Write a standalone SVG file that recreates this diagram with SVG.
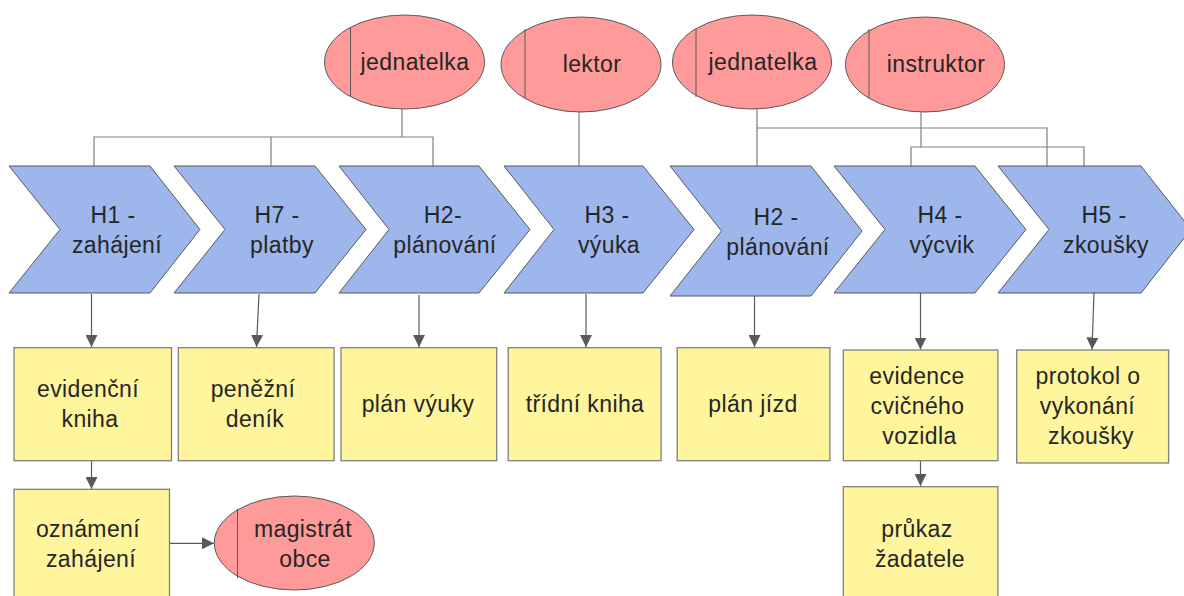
<svg xmlns="http://www.w3.org/2000/svg" width="1184" height="596" viewBox="0 0 1184 596">
  <style>
    .proc { fill: #9db6ec; stroke: #595959; stroke-width: 1; }
    .role { fill: #ff9a9a; stroke: #595959; stroke-width: 1; }
    .role-bar { stroke: #595959; stroke-width: 1; fill: none; }
    .doc { fill: #fff59d; stroke: #7f7f7f; stroke-width: 1.3; }
    .link { stroke: #7f7f7f; stroke-width: 1.2; fill: none; }
    .flow { stroke: #595959; stroke-width: 1.2; fill: none; marker-end: url(#arrow); }
    text { font-family: "Liberation Sans", Arial, sans-serif; font-size: 23px; fill: #262626; text-anchor: middle; letter-spacing: 0.4px; }
  </style>
  <defs>
    <marker id="arrow" viewBox="0 0 12 12" refX="12" refY="6" markerWidth="12" markerHeight="12" markerUnits="userSpaceOnUse" orient="auto">
      <path d="M0,0 L12,6 L0,12 Z" fill="#595959"/>
    </marker>
  </defs>

  <!-- role to process links -->
  <g id="connectors">
    <polyline class="link" points="402,109 402,137"/>
    <polyline class="link" points="94,166 94,137 433,137 433,166"/>
    <polyline class="link" points="271,137 271,166"/>
    <polyline class="link" points="579,112 579,166"/>
    <polyline class="link" points="757,109 757,166"/>
    <polyline class="link" points="757,128 1047,128 1047,166"/>
    <polyline class="link" points="921,112 921,147"/>
    <polyline class="link" points="911,166 911,147 1084,147 1084,166"/>

    <!-- process to document flows -->
    <line class="flow" x1="91.5" y1="294" x2="91.5" y2="347"/>
    <line class="flow" x1="259" y1="294" x2="256.5" y2="347"/>
    <line class="flow" x1="419" y1="295" x2="419" y2="347"/>
    <line class="flow" x1="586" y1="294" x2="586" y2="347"/>
    <line class="flow" x1="754.5" y1="296" x2="754.5" y2="347"/>
    <line class="flow" x1="920.5" y1="293" x2="920.5" y2="349.5"/>
    <line class="flow" x1="1094" y1="293" x2="1092" y2="349.5"/>
    <line class="flow" x1="91.5" y1="461" x2="91.5" y2="489"/>
    <line class="flow" x1="920.5" y1="461" x2="920.5" y2="486"/>
    <line class="flow" x1="170" y1="543.3" x2="214" y2="543.3"/>
  </g>

  <!-- roles -->
  <g id="role-jednatelka-1">
    <ellipse class="role" cx="404.5" cy="62" rx="80" ry="47"/>
    <line class="role-bar" x1="350.5" y1="28" x2="350.5" y2="97"/>
    <text x="415" y="70">jednatelka</text>
  </g>
  <g id="role-lektor">
    <ellipse class="role" cx="581" cy="64.5" rx="80" ry="47.5"/>
    <line class="role-bar" x1="525" y1="29" x2="525" y2="98"/>
    <text x="592" y="72">lektor</text>
  </g>
  <g id="role-jednatelka-2">
    <ellipse class="role" cx="752" cy="62" rx="79.5" ry="47"/>
    <line class="role-bar" x1="696" y1="29" x2="696" y2="97"/>
    <text x="763" y="70">jednatelka</text>
  </g>
  <g id="role-instruktor">
    <ellipse class="role" cx="925" cy="64.5" rx="79.5" ry="47.5"/>
    <line class="role-bar" x1="869" y1="29" x2="869" y2="98"/>
    <text x="936" y="72">instruktor</text>
  </g>
  <g id="role-magistrat">
    <ellipse class="role" cx="294.3" cy="543" rx="80" ry="47"/>
    <line class="role-bar" x1="237.5" y1="509" x2="237.5" y2="578"/>
    <text x="303" y="537">magistrát</text>
    <text x="305" y="567">obce</text>
  </g>

  <!-- process chevrons -->
  <g id="proc-h1">
    <polygon class="proc" points="9,166 150,166 200,229.5 150,293 9,293 60,229.5"/>
    <text x="113" y="223">H1 -</text>
    <text x="117" y="253">zahájení</text>
  </g>
  <g id="proc-h7">
    <polygon class="proc" points="174,166 315,166 366,229.5 315,293 174,293 225,229.5"/>
    <text x="277" y="223">H7 -</text>
    <text x="282" y="253">platby</text>
  </g>
  <g id="proc-h2a">
    <polygon class="proc" points="339,166 479,166 530,229.5 479,293 339,293 389,229.5"/>
    <text x="443" y="223">H2-</text>
    <text x="445" y="253">plánování</text>
  </g>
  <g id="proc-h3">
    <polygon class="proc" points="504,166 643,166 694,229.5 643,293 504,293 554,229.5"/>
    <text x="607" y="223">H3 -</text>
    <text x="609" y="253">výuka</text>
  </g>
  <g id="proc-h2b">
    <polygon class="proc" points="670,166 811,166 862,231 811,296 670,296 721.5,231"/>
    <text x="776" y="225">H2 -</text>
    <text x="778" y="255">plánování</text>
  </g>
  <g id="proc-h4">
    <polygon class="proc" points="834,166 975,166 1026,229.5 975,293 834,293 885,229.5"/>
    <text x="940" y="223">H4 -</text>
    <text x="942" y="253">výcvik</text>
  </g>
  <g id="proc-h5">
    <polygon class="proc" points="998,166 1141,166 1191,229.5 1141,293 998,293 1049,229.5"/>
    <text x="1104" y="223">H5 -</text>
    <text x="1106" y="253">zkoušky</text>
  </g>

  <!-- documents -->
  <g id="doc-evidencni-kniha">
    <rect class="doc" x="14" y="347.7" width="157.5" height="113"/>
    <text x="88" y="397">evidenční</text>
    <text x="90" y="427">kniha</text>
  </g>
  <g id="doc-penezni-denik">
    <rect class="doc" x="178.3" y="347.7" width="155.8" height="113"/>
    <text x="253" y="397">peněžní</text>
    <text x="255" y="427">deník</text>
  </g>
  <g id="doc-plan-vyuky">
    <rect class="doc" x="341" y="347.7" width="155.7" height="113"/>
    <text x="418" y="412">plán výuky</text>
  </g>
  <g id="doc-tridni-kniha">
    <rect class="doc" x="508.2" y="347.7" width="152.9" height="113"/>
    <text x="585" y="412">třídní kniha</text>
  </g>
  <g id="doc-plan-jizd">
    <rect class="doc" x="677.2" y="347.7" width="152.7" height="113"/>
    <text x="753" y="412">plán jízd</text>
  </g>
  <g id="doc-evidence-vozidla">
    <rect class="doc" x="843.3" y="350" width="154.6" height="110.7"/>
    <text x="917" y="383.5">evidence</text>
    <text x="917.5" y="413.5">cvičného</text>
    <text x="919.5" y="444">vozidla</text>
  </g>
  <g id="doc-protokol">
    <rect class="doc" x="1016.7" y="350" width="151.9" height="113"/>
    <text x="1088" y="383.5">protokol o</text>
    <text x="1087.5" y="413.5">vykonání</text>
    <text x="1091" y="444">zkoušky</text>
  </g>
  <g id="doc-oznameni">
    <rect class="doc" x="14" y="489.3" width="155.5" height="120"/>
    <text x="88" y="537">oznámení</text>
    <text x="91" y="567">zahájení</text>
  </g>
  <g id="doc-prukaz">
    <rect class="doc" x="843.3" y="486.7" width="154.6" height="120"/>
    <text x="917" y="537">průkaz</text>
    <text x="920" y="567">žadatele</text>
  </g>
</svg>
